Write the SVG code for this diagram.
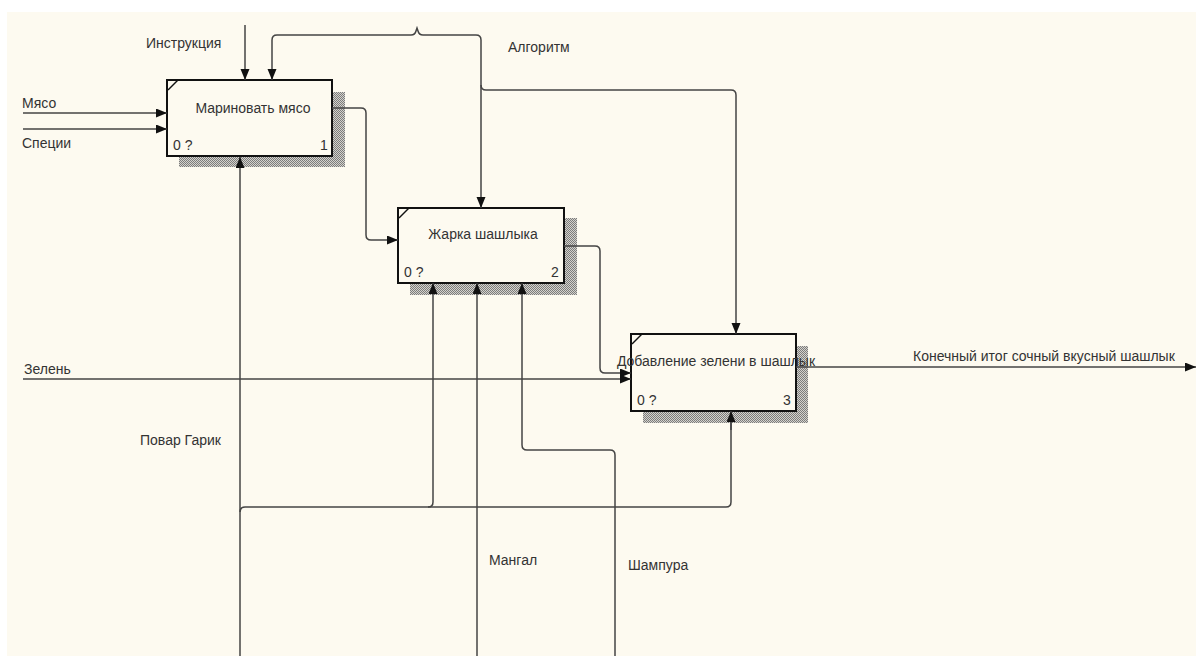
<svg xmlns="http://www.w3.org/2000/svg" width="1196" height="656" viewBox="0 0 1196 656">
<style>
.lbl{font-family:"Liberation Sans",Arial,sans-serif;font-size:14px;fill:#333}
.ttl{font-family:"Liberation Sans",Arial,sans-serif;font-size:14px;fill:#333;text-anchor:middle}
.num{font-family:"Liberation Sans",Arial,sans-serif;font-size:14px;fill:#333}
.box{fill:#fdfaf0;stroke:#111;stroke-width:2}
.tick{stroke:#111;stroke-width:1.5;fill:none}
.sh{fill:url(#hatch)}
.c{fill:none;stroke:#444;stroke-width:1.5}
.ca{fill:none;stroke:#444;stroke-width:1.5;marker-end:url(#ah)}
</style>
<defs>
<pattern id="hatch" width="2" height="2" patternUnits="userSpaceOnUse">
<rect width="2" height="2" fill="#d4d2cc"/>
<rect width="1" height="1" fill="#7c7c7c"/>
<rect x="1" y="1" width="1" height="1" fill="#7c7c7c"/>
</pattern>
<marker id="ah" markerWidth="12" markerHeight="10" refX="11" refY="4.5" orient="auto" markerUnits="userSpaceOnUse">
<path d="M0,0 L11,4.5 L0,9 z" fill="#111"/>
</marker>
</defs>
<rect width="1196" height="656" fill="#ffffff"/>
<rect x="7" y="12" width="1189" height="644" fill="#fdfaf0"/>

<g id="node1">
<rect class="sh" x="179" y="92" width="166" height="75"/>
<rect class="box" x="167" y="80" width="165" height="76"/>
<path class="tick" d="M168,90 L178,80"/>
<text class="ttl" x="253" y="113">Мариновать мясо</text>
<text class="num" x="173" y="150">0 ?</text>
<text class="num" x="320" y="150">1</text>
</g>

<g id="node2">
<rect class="sh" x="410" y="218" width="167" height="77"/>
<rect class="box" x="398" y="208" width="166" height="75"/>
<path class="tick" d="M399,218 L409,208"/>
<text class="ttl" x="483" y="239">Жарка шашлыка</text>
<text class="num" x="404" y="277">0 ?</text>
<text class="num" x="551" y="277">2</text>
</g>

<g id="node3">
<rect class="sh" x="643" y="346" width="165" height="77"/>
<rect class="box" x="631" y="334" width="165" height="77"/>
<path class="tick" d="M632,344 L642,334"/>
<text class="ttl" x="716" y="366">Добавление зелени в шашлык</text>
<text class="num" x="637" y="405">0 ?</text>
<text class="num" x="783" y="405">3</text>
</g>

<g id="connectors">
<path class="ca" d="M23,113 H167"/>
<path class="ca" d="M23,129 H167"/>
<path class="ca" d="M245,25 V80"/>
<path class="ca" d="M411,35 H277 Q272,35 272,40 V80"/>
<path class="ca" d="M411,35 Q415,35 416,31 L417,28 L418,31 Q419,35 423,35 H476 Q481,35 481,40 V208"/>
<path class="ca" d="M481,85 Q481,90 486,90 H731 Q736,90 736,95 V334"/>
<path class="ca" d="M332,108 H361 Q366,108 366,113 V235 Q366,240 371,240 H398"/>
<path class="ca" d="M564,246 H595 Q600,246 600,251 V368 Q600,373 605,373 H631"/>
<path class="ca" d="M23,379 H631"/>
<path class="ca" d="M796,367 H1196"/>
<path class="ca" d="M240,656 V157"/>
<path class="c" d="M240,512 Q240,507 245,507 H726 Q731,507 731,502 V420"/>
<path class="ca" d="M731,430 V411"/>
<path class="ca" d="M428,507 Q433,507 433,502 V283"/>
<path class="ca" d="M477,656 V283"/>
<path class="ca" d="M615,656 V455 Q615,450 610,450 H527 Q522,450 522,445 V283"/>
</g>

<g id="labels">
<text class="lbl" x="146" y="48">Инструкция</text>
<text class="lbl" x="508" y="52">Алгоритм</text>
<text class="lbl" x="22" y="108">Мясо</text>
<text class="lbl" x="22" y="148">Специи</text>
<text class="lbl" x="24" y="374">Зелень</text>
<text class="lbl" x="140" y="445">Повар Гарик</text>
<text class="lbl" x="489" y="565">Мангал</text>
<text class="lbl" x="628" y="570">Шампура</text>
<text class="lbl" x="913" y="361">Конечный итог сочный вкусный шашлык</text>
</g>
</svg>
